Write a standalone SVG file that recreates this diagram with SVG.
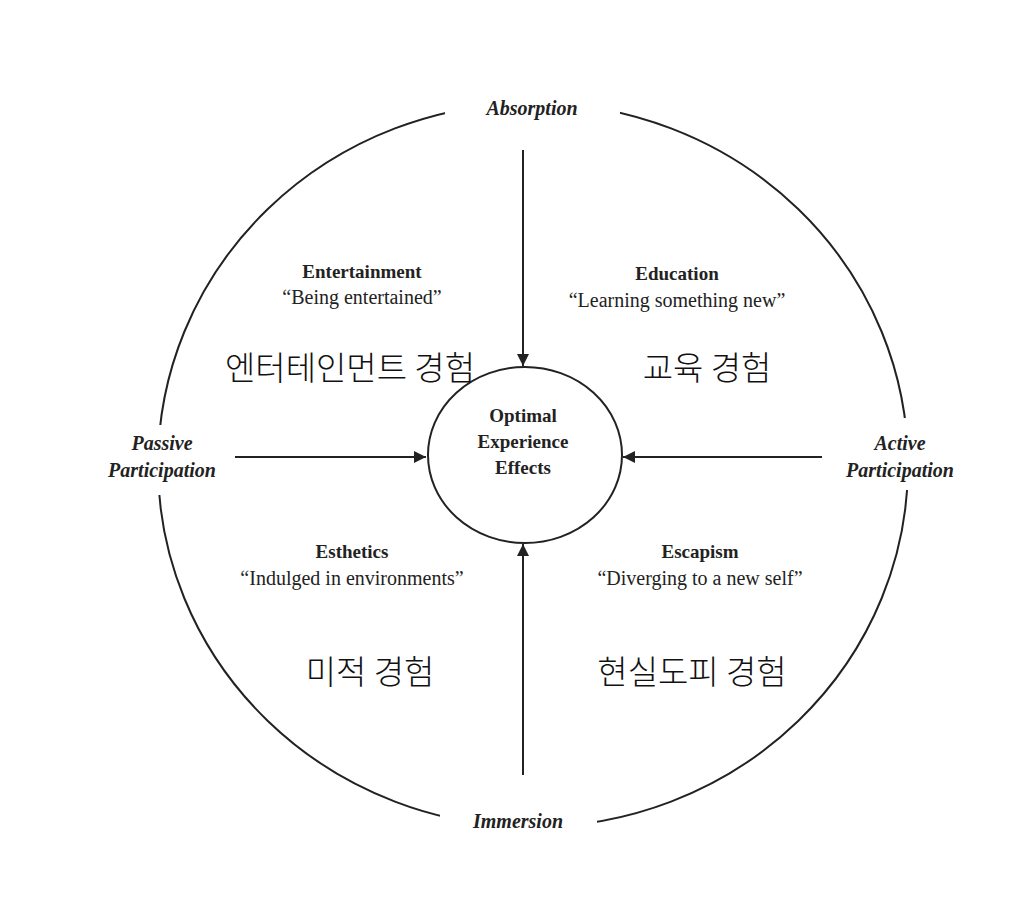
<svg xmlns="http://www.w3.org/2000/svg" width="1018" height="912" viewBox="0 0 1018 912">
<style>
.l{fill:none;stroke:#222;stroke-width:2}
.ax{font-family:"Liberation Serif",serif;font-style:italic;font-weight:bold;font-size:20px;fill:#222;text-anchor:middle}
.h{font-family:"Liberation Serif",serif;font-weight:bold;font-size:19px;fill:#222;text-anchor:middle}
.q{font-family:"Liberation Serif",serif;font-size:20px;fill:#222;text-anchor:middle}
.k{font-family:"Noto Sans CJK KR","Noto Sans",sans-serif;font-weight:300;font-size:33px;fill:#111;text-anchor:middle}
.m{fill:#fff}
</style>
<defs><marker id="a" viewBox="0 0 10 10" refX="10" refY="5" markerWidth="6" markerHeight="6" orient="auto"><path d="M0,0L10,5L0,10z" fill="#222"/></marker></defs>
<rect width="1018" height="912" fill="#fff"/>
<g id="outer"><ellipse class="l" cx="533" cy="465" rx="375" ry="362"/>
<rect class="m" x="445" y="92" width="175" height="30"/><rect class="m" x="440" y="812" width="157" height="30"/>
<rect class="m" x="140" y="425" width="40" height="70"/><rect class="m" x="890" y="418" width="40" height="72"/></g>
<g id="connectors">
<line class="l" x1="523" y1="150" x2="523" y2="366" marker-end="url(#a)"/>
<line class="l" x1="523" y1="775" x2="523" y2="544" marker-end="url(#a)"/>
<line class="l" x1="235" y1="457" x2="426" y2="457" marker-end="url(#a)"/>
<line class="l" x1="822" y1="457" x2="623" y2="457" marker-end="url(#a)"/>
</g>
<g id="center"><ellipse class="l" cx="525" cy="455" rx="97" ry="88"/>
<text class="h" x="523" y="422">Optimal</text><text class="h" x="523" y="448">Experience</text><text class="h" x="523" y="474">Effects</text></g>
<g id="absorption"><text class="ax" x="532" y="115">Absorption</text></g>
<g id="immersion"><text class="ax" x="518" y="828">Immersion</text></g>
<g id="passive"><text class="ax" x="162" y="450">Passive</text><text class="ax" x="162" y="477">Participation</text></g>
<g id="active"><text class="ax" x="900" y="450">Active</text><text class="ax" x="900" y="477">Participation</text></g>
<g id="entertainment"><text class="h" x="362" y="278">Entertainment</text><text class="q" x="362" y="304">“Being entertained”</text><text class="k" x="350" y="380">엔터테인먼트 경험</text></g>
<g id="education"><text class="h" x="677" y="280">Education</text><text class="q" x="677" y="307">“Learning something new”</text><text class="k" x="707" y="380">교육 경험</text></g>
<g id="esthetics"><text class="h" x="352" y="558">Esthetics</text><text class="q" x="352" y="585">“Indulged in environments”</text><text class="k" x="370" y="684">미적 경험</text></g>
<g id="escapism"><text class="h" x="700" y="558">Escapism</text><text class="q" x="700" y="585">“Diverging to a new self”</text><text class="k" x="692" y="684">현실도피 경험</text></g>
</svg>
